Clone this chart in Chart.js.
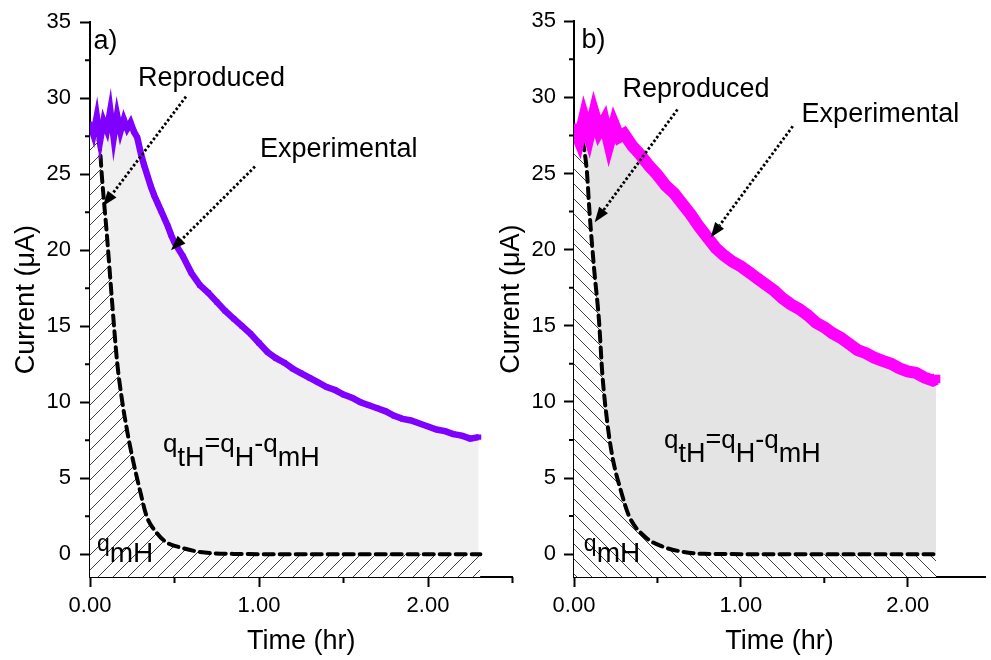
<!DOCTYPE html>
<html>
<head>
<meta charset="utf-8">
<script src="https://cdn.jsdelivr.net/npm/chart.js@4.4.1/dist/chart.umd.min.js"></script>
<style>
  html, body { margin: 0; padding: 0; background: #fff; }
  #wrap { position: relative; width: 991px; height: 660px; overflow: hidden; }
  #chartA { position: absolute; left: 0; top: 0; }
  #chartB { position: absolute; left: 495px; top: 0; }
</style>
</head>
<body>
<div id="wrap">
  <canvas id="chartA" width="525" height="660"></canvas>
  <canvas id="chartB" width="496" height="660"></canvas>
</div>
<script>
// ---- data ----
const yTicks = [0, 5, 10, 15, 20, 25, 30, 35];
const yMinor = [2.5, 7.5, 12.5, 17.5, 22.5, 27.5, 32.5];
const xTicks = [0, 1, 2];
const xMinor = [0.5, 1.5, 2.5];

// panel a) experimental current (uA) vs time (hr)
const expTimeA = [0.00,0.02,0.04,0.06,0.08,0.10,0.12,0.14,0.16,0.18,0.20,0.22,0.24,0.26,0.28,0.30,0.32,0.34,0.36,0.38,0.40,0.42,0.44,0.46,0.48,0.50,0.55,0.60,0.65,0.70,0.75,0.80,0.85,0.90,0.95,1.00,1.05,1.10,1.15,1.20,1.25,1.30,1.35,1.40,1.45,1.50,1.55,1.60,1.65,1.70,1.75,1.80,1.85,1.90,1.95,2.00,2.05,2.10,2.15,2.20,2.25,2.30];
const expCurA  = [28.3,27.6,28.8,27.2,28.5,27.9,29.2,27.4,28.9,27.8,28.6,28.0,28.4,27.8,27.4,26.4,25.6,24.9,24.2,23.6,23.1,22.6,22.1,21.6,21.0,20.5,19.6,18.5,17.7,17.2,16.6,16.0,15.5,15.0,14.5,13.9,13.3,12.9,12.6,12.2,11.9,11.6,11.3,11.0,10.8,10.5,10.3,10.0,9.8,9.6,9.4,9.1,8.9,8.8,8.6,8.4,8.2,8.1,7.9,7.8,7.6,7.7];
// panel a) reproduced current
const repTimeA = [0.00,0.03,0.06,0.07,0.10,0.13,0.16,0.19,0.22,0.25,0.30,0.335,0.395,0.45,0.55,0.65,0.85,1.20,1.60,2.00,2.31];
const repCurA  = [28.0,27.9,26.5,24.9,21.0,16.7,12.7,10.1,8.1,6.4,4.0,2.5,1.4,0.8,0.4,0.15,0.02,0,0,0,0];

// panel b) experimental current
const expTimeB = [0.00,0.03,0.06,0.09,0.12,0.15,0.18,0.21,0.24,0.27,0.30,0.35,0.40,0.45,0.50,0.55,0.60,0.65,0.70,0.75,0.80,0.85,0.90,0.95,1.00,1.05,1.10,1.15,1.20,1.25,1.30,1.35,1.40,1.45,1.50,1.55,1.60,1.65,1.70,1.75,1.80,1.85,1.90,1.95,2.00,2.05,2.10,2.15,2.17];
const expCurB  = [28.0,27.2,28.6,27.5,28.9,27.8,28.4,27.0,28.2,27.4,27.6,26.8,26.2,25.5,24.9,24.2,23.7,23.0,22.3,21.5,20.8,20.1,19.6,19.2,18.9,18.5,18.1,17.7,17.3,16.8,16.4,16.1,15.7,15.2,14.9,14.5,14.2,13.8,13.4,13.2,12.9,12.7,12.5,12.2,12.0,11.9,11.6,11.4,11.5];
// panel b) reproduced current
const repTimeB = [0.00,0.02,0.075,0.094,0.12,0.15,0.17,0.20,0.23,0.28,0.33,0.43,0.53,0.63,0.78,1.20,1.60,2.00,2.17];
const repCurB  = [28.0,27.9,25.4,22.3,18.8,15.3,11.8,8.6,6.4,4.2,2.5,1.1,0.5,0.2,0.02,0,0,0,0];

const FONT = '"Liberation Sans", Arial, sans-serif';
Chart.defaults.font.family = FONT;
Chart.defaults.color = '#000';

const pts = (xs, ys) => xs.map((x, i) => ({ x, y: ys[i] }));

// opaque hatch pattern (white background + thin diagonal lines)
const makeHatch = (dir) => {
    const s = 15;
    const c = document.createElement('canvas');
    c.width = s; c.height = s;
    const g = c.getContext('2d');
    g.fillStyle = '#fff';
    g.fillRect(0, 0, s, s);
    g.strokeStyle = '#404040';
    g.lineWidth = 1;
    g.beginPath();
    if (dir === '/') {
        g.moveTo(-1, s + 1); g.lineTo(s + 1, -1);
        g.moveTo(-1, 1); g.lineTo(1, -1);
        g.moveTo(s - 1, s + 1); g.lineTo(s + 1, s - 1);
    } else {
        g.moveTo(-1, -1); g.lineTo(s + 1, s + 1);
        g.moveTo(s - 1, -1); g.lineTo(s + 1, 1);
        g.moveTo(-1, s - 1); g.lineTo(1, s + 1);
    }
    g.stroke();
    return g.createPattern(c, 'repeat');
};

// minor axis ticks
const minorTicks = {
    id: 'minorTicks',
    afterDraw(chart, args, o) {
        const { ctx, scales: { x, y } } = chart;
        ctx.save();
        ctx.strokeStyle = '#000';
        ctx.lineWidth = 2;
        ctx.beginPath();
        o.y.forEach(v => {
            const py = y.getPixelForValue(v);
            ctx.moveTo(x.left, py); ctx.lineTo(x.left - 5, py);
        });
        o.x.forEach(v => {
            if (v > x.max) return;
            const px = x.getPixelForValue(v);
            ctx.moveTo(px, y.bottom); ctx.lineTo(px, y.bottom + 6);
        });
        ctx.stroke();
        ctx.restore();
    }
};

// text labels, dotted arrows and the charge formula
const notes = {
    id: 'notes',
    afterDatasetsDraw(chart, args, o) {
        const { ctx, scales: { x, y } } = chart;
        const P = p => [x.getPixelForValue(p[0]), y.getPixelForValue(p[1])];
        ctx.save();
        ctx.fillStyle = '#000';
        ctx.textAlign = 'left';
        ctx.textBaseline = 'middle';
        ctx.font = '27px ' + FONT;
        [[o.panel, o.panelAt], ['Reproduced', o.repAt], ['Experimental', o.expAt]].forEach(([t, p]) => {
            const [px, py] = P(p);
            ctx.fillText(t, px, py);
        });

        const arrow = (a, b) => {
            const [x0, y0] = P(a), [x1, y1] = P(b);
            const ang = Math.atan2(y1 - y0, x1 - x0);
            const len = 15, wid = 5.5;
            const bx = x1 - len * Math.cos(ang), by = y1 - len * Math.sin(ang);
            ctx.save();
            ctx.strokeStyle = '#000';
            ctx.lineWidth = 2.8;
            ctx.setLineDash([2.5, 2.2]);
            ctx.beginPath();
            ctx.moveTo(x0, y0); ctx.lineTo(bx, by);
            ctx.stroke();
            ctx.setLineDash([]);
            ctx.beginPath();
            ctx.moveTo(x1, y1);
            ctx.lineTo(bx + wid * Math.sin(ang), by - wid * Math.cos(ang));
            ctx.lineTo(bx - wid * Math.sin(ang), by + wid * Math.cos(ang));
            ctx.closePath();
            ctx.fill();
            ctx.restore();
        };
        arrow(o.repArrow[0], o.repArrow[1]);
        arrow(o.expArrow[0], o.expArrow[1]);

        ctx.textBaseline = 'alphabetic';
        const runText = (parts, at) => {
            let [px, py] = P(at);
            parts.forEach(([t, size, dy]) => {
                ctx.font = size + 'px ' + FONT;
                ctx.fillText(t, px, py + dy);
                px += ctx.measureText(t).width;
            });
        };
        runText([['q', 26, 0], ['tH', 27, 14], ['=', 27, 0], ['q', 26, 0], ['H', 27, 14], ['-', 27, 0], ['q', 26, 0], ['mH', 27, 14]], o.formulaAt);
        runText([['q', 23, 0], ['mH', 28, 11]], o.qmhAt);
        ctx.restore();
    }
};

const makeChart = (id, cfg) => {
    const tickFont = { size: 22, family: FONT };
    const titleFont = { size: 27, family: FONT };
    return new Chart(document.getElementById(id), {
        type: 'line',
        data: {
            datasets: [
                {
                    label: 'Experimental',
                    data: pts(cfg.expT, cfg.expI),
                    borderColor: cfg.color,
                    backgroundColor: cfg.color,
                    borderWidth: cfg.lineW,
                    borderJoinStyle: 'miter',
                    pointStyle: 'rect',
                    pointRadius: cfg.pointR,
                    pointBorderWidth: 0,
                    fill: false,
                    order: 1
                },
                {
                    label: 'Reproduced',
                    data: pts(cfg.repT, cfg.repI),
                    borderColor: '#000',
                    borderWidth: 4,
                    borderDash: [10, 6],
                    borderCapStyle: 'round',
                    cubicInterpolationMode: 'monotone',
                    pointRadius: 0,
                    fill: 'start',
                    backgroundColor: makeHatch(cfg.hatch),
                    order: 2
                },
                {
                    label: 'qtH',
                    data: pts(cfg.expT, cfg.expI),
                    borderWidth: 0,
                    pointRadius: 0,
                    fill: 'origin',
                    backgroundColor: cfg.gray,
                    order: 3
                }
            ]
        },
        options: {
            responsive: false,
            animation: false,
            layout: { padding: { top: 20, right: cfg.padRight, bottom: 0, left: 0 } },
            plugins: {
                legend: { display: false },
                tooltip: { enabled: false },
                minorTicks: { x: xMinor, y: yMinor },
                notes: cfg.notes
            },
            scales: {
                x: {
                    type: 'linear',
                    min: 0,
                    max: cfg.xMax,
                    afterFit: s => { s.height = 83; },
                    afterBuildTicks: s => { s.ticks = xTicks.map(v => ({ value: v })); },
                    grid: { drawOnChartArea: false, tickLength: 10, tickWidth: 2, tickColor: '#000' },
                    border: { color: '#000', width: 2 },
                    ticks: { font: tickFont, color: '#000', padding: 6, maxRotation: 0, callback: v => v.toFixed(2) },
                    title: { display: true, text: 'Time (hr)', font: titleFont, color: '#000', padding: { top: 0, bottom: 2 } }
                },
                y: {
                    min: -1.5,
                    max: 35,
                    afterFit: s => { s.width = cfg.yW; },
                    afterBuildTicks: s => { s.ticks = yTicks.map(v => ({ value: v })); },
                    grid: { drawOnChartArea: false, tickLength: 10, tickWidth: 2, tickColor: '#000' },
                    border: { color: '#000', width: 2 },
                    ticks: { font: tickFont, color: '#000', padding: cfg.yPad },
                    title: { display: true, text: 'Current (μA)', font: titleFont, color: '#000', padding: { top: cfg.yTitlePad, bottom: 0 } }
                }
            }
        },
        plugins: [minorTicks, notes]
    });
};

makeChart('chartA', {
    expT: expTimeA, expI: expCurA, repT: repTimeA, repI: repCurA,
    color: '#7f00ff', lineW: 6.5, pointR: 3.6, hatch: '/', gray: '#f0f0f0',
    xMax: 2.5, padRight: 12.5, yW: 90, yPad: 9, yTitlePad: 10,
    notes: {
        panel: 'a)', panelAt: [0.02, 33.7],
        repAt: [0.284, 31.3], expAt: [1.006, 26.6],
        repArrow: [[0.568, 30.1], [0.077, 22.9]],
        expArrow: [[0.976, 25.5], [0.479, 20.0]],
        formulaAt: [0.432, 6.7], qmhAt: [0.041, 0.2]
    }
});

makeChart('chartB', {
    expT: expTimeB, expI: expCurB, repT: repTimeB, repI: repCurB,
    color: '#ff00ff', lineW: 12, pointR: 6, hatch: '\\', gray: '#e4e4e4',
    xMax: 2.463, padRight: 0, yW: 79, yPad: 8, yTitlePad: 0,
    notes: {
        panel: 'b)', panelAt: [0.045, 33.7],
        repAt: [0.29, 30.5], expAt: [1.364, 28.9],
        repArrow: [[0.62, 29.2], [0.124, 21.8]],
        expArrow: [[1.311, 28.1], [0.819, 20.8]],
        formulaAt: [0.54, 7.0], qmhAt: [0.059, 0.2]
    }
});
</script>
</body>
</html>
